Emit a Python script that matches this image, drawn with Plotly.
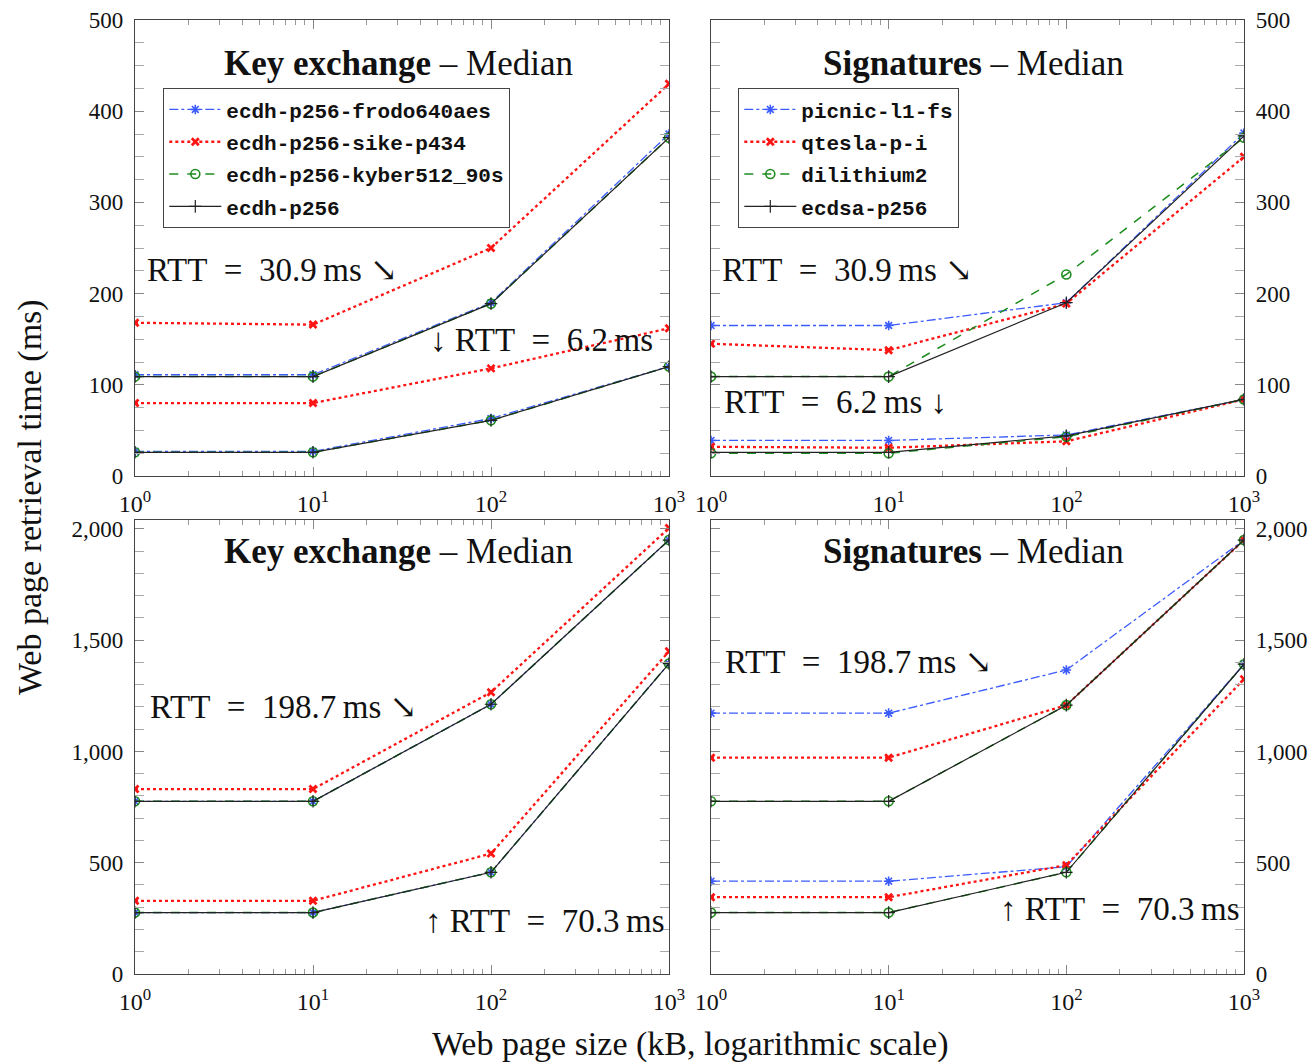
import plotly.graph_objects as go

# Web page size in kB (log axis)
sizes_kb = [1, 10, 100, 1000]

# Key exchange medians (ms) per RTT
kex_names = ["ecdh-p256-frodo640aes", "ecdh-p256-sike-p434", "ecdh-p256-kyber512_90s", "ecdh-p256"]
kex_rtt31 = [[111, 111, 190, 375], [168, 166, 250, 430], [109, 109, 189, 371], [109, 109, 189, 371]]
kex_rtt6 = [[27, 27, 63, 120], [80, 80, 118, 162], [26, 26, 61, 120], [26, 26, 61, 120]]
kex_rtt199 = [[776, 776, 1212, 1950], [831, 831, 1266, 2004], [776, 776, 1212, 1950], [776, 776, 1212, 1950]]
kex_rtt70 = [[276, 276, 457, 1395], [329, 329, 541, 1450], [276, 276, 457, 1395], [276, 276, 457, 1395]]

# Signature medians (ms) per RTT
sig_names = ["picnic-l1-fs", "qtesla-p-i", "dilithium2", "ecdsa-p256"]
sig_rtt31 = [[165, 165, 190, 376], [145, 138, 189, 350], [109, 109, 221, 371], [109, 109, 190, 373]]
sig_rtt6 = [[39, 39, 45, 84], [32, 31, 38, 84], [25, 25, 43, 84], [26, 26, 44, 84]]
sig_rtt199 = [[1172, 1172, 1366, 1950], [972, 972, 1208, 1950], [776, 776, 1208, 1950], [776, 776, 1208, 1950]]
sig_rtt70 = [[417, 417, 482, 1392], [345, 345, 489, 1325], [276, 276, 457, 1392], [276, 276, 457, 1392]]

# Series styles (blue dash-dot stars, red dotted x, green dashed circles, black solid plus)
styles = [
    dict(color="#3b5bff", dash="dashdot", width=1.3, symbol="asterisk-open", msize=8, mlw=1.6),
    dict(color="#ff1414", dash="dot", width=2.3, symbol="x-thin-open", msize=7, mlw=2.8),
    dict(color="#1e8c1e", dash="dash", width=1.5, symbol="circle-open", msize=9, mlw=1.6),
    dict(color="#222222", dash="solid", width=1.2, symbol="cross-thin-open", msize=9, mlw=1.2),
]

SERIF = "Liberation Serif, DejaVu Serif, serif"
MONO = "Liberation Mono, DejaVu Sans Mono, monospace"

fig = go.Figure()


def add_group(names, groups, xa, ya, legend_id, show_legend):
    for gi, series in enumerate(groups):
        for i, (name, ys) in enumerate(zip(names, series)):
            s = styles[i]
            fig.add_trace(go.Scatter(
                x=sizes_kb, y=ys, mode="lines+markers",
                name="<b>" + name + "</b>",
                legend=legend_id, legendgroup=legend_id + name,
                showlegend=(show_legend and gi == 0),
                line=dict(color=s["color"], dash=s["dash"], width=s["width"]),
                marker=dict(symbol=s["symbol"], size=s["msize"],
                            line=dict(color=s["color"], width=s["mlw"])),
                xaxis=xa, yaxis=ya,
            ))


add_group(kex_names, [kex_rtt31, kex_rtt6], "x", "y", "legend", True)
add_group(sig_names, [sig_rtt31, sig_rtt6], "x2", "y2", "legend2", True)
add_group(kex_names, [kex_rtt199, kex_rtt70], "x3", "y3", "legend", False)
add_group(sig_names, [sig_rtt199, sig_rtt70], "x4", "y4", "legend2", False)

W, H = 1315, 1062
left_dom = [135 / W, 669 / W]
right_dom = [711 / W, 1244 / W]
top_dom = [1 - 476 / H, 1 - 20 / H]
bot_dom = [1 - 974 / H, 1 - 520 / H]

minor_x = [m * 10 ** d for d in range(3) for m in range(2, 10)]
x_common = dict(
    type="log", range=[0, 3], automargin=False,
    tickmode="array", tickvals=sizes_kb,
    ticktext=["10<sup>0</sup>", "10<sup>1</sup>", "10<sup>2</sup>", "10<sup>3</sup>"],
    ticks="inside", ticklen=9, tickwidth=1, tickcolor="#888",
    minor=dict(tickmode="array", tickvals=minor_x, ticks="inside", ticklen=5,
               tickwidth=1, tickcolor="#999", showgrid=False),
    showline=True, linecolor="#444", linewidth=1.3, mirror="ticks",
    showgrid=False, zeroline=False, ticklabelstandoff=6,
    tickfont=dict(family=SERIF, size=24, color="#111"),
)


def y_axis(rng, dtick, mdtick, dom, anchor, side):
    return dict(
        range=rng, domain=dom, anchor=anchor, side=side, automargin=False,
        dtick=dtick, tick0=0, tickformat=",d",
        ticks="inside", ticklen=9, tickwidth=1, tickcolor="#888",
        minor=dict(dtick=mdtick, tick0=0, ticks="inside", ticklen=9,
                   tickwidth=1, tickcolor="#aaa", showgrid=False),
        showline=True, linecolor="#444", linewidth=1.3, mirror="ticks",
        showgrid=False, zeroline=False, ticklabelstandoff=6,
        tickfont=dict(family=SERIF, size=23, color="#111"),
    )


legend_common = dict(
    xanchor="left", yanchor="top",
    bgcolor="white", bordercolor="#444", borderwidth=1.3,
    font=dict(family=MONO, size=21, color="#111"),
    traceorder="grouped", tracegroupgap=2, itemwidth=52,
)

ann_font = dict(family=SERIF, size=33, color="#111")
axis_title_font = dict(family=SERIF, size=34, color="#111")
title_font = dict(family=SERIF, size=35, color="#111")
SP = "\u2002"   # wider gap around the equals sign
TH = "\u2009"   # thin gap before the unit


def paper_y(py):
    return 1 - py / H


def rtt(v):
    return "RTT" + SP + "=" + SP + v + TH + "ms"


annotations = [
    # panel titles
    dict(x=398 / W, y=paper_y(64), text="<b>Key exchange</b> – Median", font=title_font),
    dict(x=973 / W, y=paper_y(64), text="<b>Signatures</b> – Median", font=title_font),
    dict(x=398 / W, y=paper_y(551), text="<b>Key exchange</b> – Median", font=title_font),
    dict(x=973 / W, y=paper_y(551), text="<b>Signatures</b> – Median", font=title_font),
    # RTT labels
    dict(x=145 / W, y=paper_y(270), text=rtt("30.9") + " ↘", font=ann_font, xanchor="left"),
    dict(x=428 / W, y=paper_y(340), text="↓ " + rtt("6.2"), font=ann_font, xanchor="left"),
    dict(x=720 / W, y=paper_y(270), text=rtt("30.9") + " ↘", font=ann_font, xanchor="left"),
    dict(x=722 / W, y=paper_y(402), text=rtt("6.2") + " ↓", font=ann_font, xanchor="left"),
    dict(x=148 / W, y=paper_y(707), text=rtt("198.7") + " ↘", font=ann_font, xanchor="left"),
    dict(x=423 / W, y=paper_y(921), text="↑ " + rtt("70.3"), font=ann_font, xanchor="left"),
    dict(x=723 / W, y=paper_y(662), text=rtt("198.7") + " ↘", font=ann_font, xanchor="left"),
    dict(x=998 / W, y=paper_y(909), text="↑ " + rtt("70.3"), font=ann_font, xanchor="left"),
    # axis titles
    dict(x=690 / W, y=paper_y(1044), text="Web page size (kB, logarithmic scale)", font=axis_title_font),
    dict(x=30 / W, y=paper_y(497), text="Web page retrieval time (ms)", font=axis_title_font, textangle=-90),
]
for a in annotations:
    a.setdefault("xanchor", "center")
    a.update(xref="paper", yref="paper", showarrow=False, yanchor="middle")

fig.update_layout(
    width=W, height=H,
    margin=dict(l=0, r=0, t=0, b=0, autoexpand=False),
    paper_bgcolor="white", plot_bgcolor="white",
    font=dict(family=SERIF, color="#111"),
    xaxis=dict(x_common, domain=left_dom, anchor="y"),
    xaxis2=dict(x_common, domain=right_dom, anchor="y2"),
    xaxis3=dict(x_common, domain=left_dom, anchor="y3"),
    xaxis4=dict(x_common, domain=right_dom, anchor="y4"),
    yaxis=y_axis([0, 500], 100, 25, top_dom, "x", "left"),
    yaxis2=y_axis([0, 500], 100, 25, top_dom, "x2", "right"),
    yaxis3=y_axis([0, 2040], 500, 100, bot_dom, "x3", "left"),
    yaxis4=y_axis([0, 2040], 500, 100, bot_dom, "x4", "right"),
    legend=dict(legend_common, x=163 / W, y=paper_y(88)),
    legend2=dict(legend_common, x=738 / W, y=paper_y(88)),
    annotations=annotations,
)

fig.write_html("out.html")
